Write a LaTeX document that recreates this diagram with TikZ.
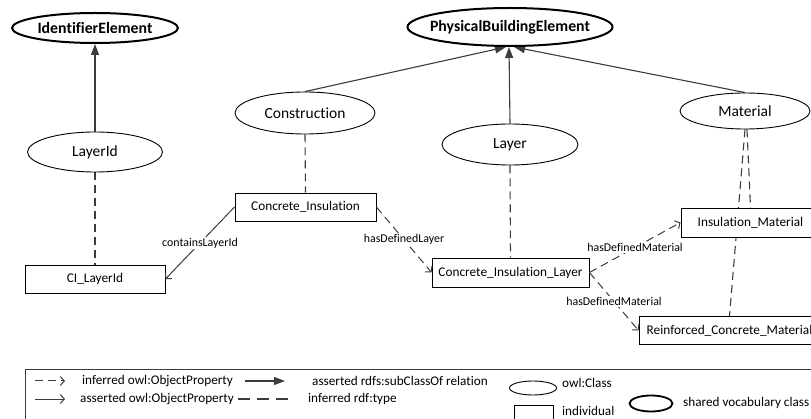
\documentclass[tikz,border=0pt]{standalone}
\usepackage{fontspec}
\setmainfont{Carlito}[Ligatures=NoCommon]
\usetikzlibrary{shapes.geometric,arrows.meta,backgrounds}
\definecolor{linegray}{HTML}{3C3C3C}

\begin{document}
\begin{tikzpicture}[x=1pt,y=-1pt,
  cls/.style={ellipse, draw=black, line width=0.9pt, fill=white,
    inner xsep=-60pt, inner ysep=-20pt, font=\fontsize{15.5}{18}\selectfont},
  sharedcls/.style={cls, line width=2pt, font=\bfseries\fontsize{15.8}{18}\selectfont},
  indiv/.style={rectangle, draw=black, line width=0.9pt, fill=white, inner sep=0pt,
    font=\fontsize{13.3}{16}\selectfont},
  subclass/.style={draw=linegray, line width=1.1pt, -{Triangle[length=11pt,width=8pt]}},
  rdftype/.style={draw=linegray, line width=1.1pt, dash pattern=on 8pt off 5pt},
  inferredprop/.style={draw=linegray, line width=1pt, dash pattern=on 8pt off 5pt,
    -{Straight Barb[length=4pt,width=9pt]}},
  assertedprop/.style={draw=linegray, line width=1pt, -{Straight Barb[length=4pt,width=9pt]}},
  proplabel/.style={fill=white, inner sep=1pt, font=\fontsize{11.9}{14}\selectfont},
  legendtext/.style={anchor=west, inner sep=0pt, font=\fontsize{13.2}{16}\selectfont}
]
\useasboundingbox (0,0) rectangle (811,419);
\clip (0,0) rectangle (811,419);

% shared vocabulary classes
\node[sharedcls, minimum width=166pt, minimum height=30pt] (ide) at (95,28) {IdentifierElement};
\node[sharedcls, minimum width=205pt, minimum height=38pt] (pbe) at (510,27) {PhysicalBuildingElement};

% owl classes
\node[cls, minimum width=140pt, minimum height=42pt] (cons) at (305,113) {Construction};
\node[cls, minimum width=135pt, minimum height=40pt] (lid) at (95,152) {LayerId};
\node[cls, minimum width=136pt, minimum height=41pt] (layer) at (510,144.5) {Layer};
\node[cls, minimum width=130pt, minimum height=36pt] (mat) at (745,111) {Material};

% individuals
\node[indiv, minimum width=141pt, minimum height=28pt] (ci) at (305.5,207) {Concrete\_Insulation};
\node[indiv, minimum width=140pt, minimum height=28pt] (cilid) at (95,279) {CI\_LayerId};
\node[indiv, minimum width=157pt, minimum height=29pt] (cil) at (510.5,272.5) {Concrete\_Insulation\_Layer};
\node[indiv, minimum width=139pt, minimum height=29pt] (im) at (750.5,222.5) {Insulation\_Material};
\node[indiv, minimum width=181pt, minimum height=28pt] (rcm) at (729.5,330.5) {Reinforced\_Concrete\_Material};

\begin{scope}[on background layer]
  \clip (0,0) rectangle (811,419);
  % subclass relations
  \draw[subclass] (lid.north) -- (ide.south);
  \draw[subclass] (cons.north) -- ([xshift=-4pt]pbe.south);
  \draw[subclass] (layer.north) -- ([xshift=-1pt]pbe.south);
  \draw[subclass] (mat.north) -- ([xshift=4pt]pbe.south);
  % rdf:type links
  \draw[rdftype] (cons.south) -- (ci.north);
  \draw[rdftype] (lid.south) -- (cilid.north);
  \draw[rdftype] (layer.south) -- (cil.north);
  \draw[rdftype] ([xshift=2pt]mat.south) -- (im.north);
  \draw[rdftype] (mat.south) -- (rcm.north);
\end{scope}

% object properties
\draw[assertedprop] (ci.west) -- node[proplabel] {containsLayerId} (cilid.east);
\draw[inferredprop] (ci.east) -- node[proplabel] {hasDefinedLayer} (cil.west);
\draw[inferredprop] (cil.east) -- node[proplabel] {hasDefinedMaterial} (im.west);
\draw[inferredprop] (cil.east) -- node[proplabel] {hasDefinedMaterial} (rcm.west);

% legend
\draw[draw=linegray, line width=0.9pt] (25,369) rectangle (840,440);
\coordinate (k1a) at (35,381); \coordinate (k1b) at (65,381);
\draw[inferredprop] (k1a) -- (k1b);
\node[legendtext] (t1) at (82,381) {inferred owl:ObjectProperty};
\coordinate (k2a) at (245,381); \coordinate (k2b) at (285,381);
\draw[subclass] (k2a) -- (k2b);
\node[legendtext] (t2) at (312,381) {asserted rdfs:subClassOf relation};
\coordinate (k3a) at (35,399); \coordinate (k3b) at (65,399);
\draw[assertedprop] (k3a) -- (k3b);
\node[legendtext] (t3) at (80,399) {asserted owl:ObjectProperty};
\coordinate (k4a) at (238,399); \coordinate (k4b) at (288,399);
\draw[draw=linegray, line width=1.1pt, dash pattern=on 12pt off 7pt] (k4a) -- (k4b);
\node[legendtext] (t4) at (308,399) {inferred rdf:type};
\node[cls, minimum width=47pt, minimum height=14pt] (kcls) at (533,388) {};
\node[legendtext] (t5) at (562,383) {owl:Class};
\node[indiv, minimum width=39pt, minimum height=22pt, anchor=north west] (kind) at (514,405) {};
\node[legendtext] (t6) at (562,411) {individual};
\node[sharedcls, minimum width=43pt, minimum height=16pt, line width=1.8pt] (kshared) at (651,403.5) {};
\node[legendtext] (t7) at (683,403) {shared vocabulary class};
\end{tikzpicture}
\end{document}
